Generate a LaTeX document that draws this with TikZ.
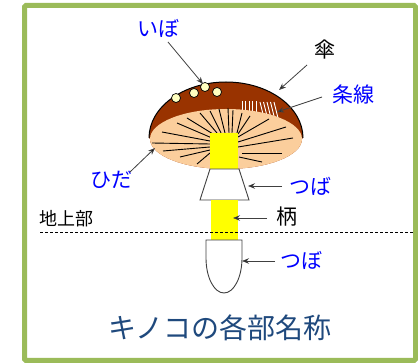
\documentclass[tikz,border=0pt]{standalone}
\usepackage{fontspec}
\newfontfamily\jp{Noto Sans CJK JP}
\usetikzlibrary{arrows.meta}
\definecolor{frameGreen}{HTML}{9BBB59}
\definecolor{capBrown}{HTML}{993300}
\definecolor{gillTan}{HTML}{FBCE9C}
\definecolor{wartCream}{HTML}{FFFFC0}
\definecolor{titleBlue}{HTML}{1F497D}
\definecolor{labelBlue}{HTML}{0000FF}
\definecolor{stemYellow}{HTML}{FFFF00}
\begin{document}
\begin{tikzpicture}[x=1pt,y=-1pt,
  lbl/.style={font={\jp\fontsize{21pt}{21pt}\selectfont}, inner sep=0pt, text=black},
  bluelbl/.style={lbl, text=labelBlue},
  pointer/.style={draw=black!75, line width=0.8pt,
    -{Stealth[length=7pt,width=5.5pt,fill=black]}},
  gillline/.style={draw=black, line width=0.9pt},
  streak/.style={draw=white, line width=0.9pt},
  outlined/.style={draw=black!75, line width=0.9pt, fill=white},
  wartdot/.style={draw=black, line width=0.7pt, fill=wartCream}]
\useasboundingbox (0,0) rectangle (418,363);

% cap: brown dome with its streaks, then the gill underside
\fill[capBrown] (149,138) arc[start angle=180,end angle=0,x radius=77pt,y radius=56pt]
  -- (302,139) arc[start angle=0,end angle=-180,x radius=76pt,y radius=30pt] -- cycle;
\foreach \x in {242,245.5,249,252.5,256}
  \draw[streak] (\x,101) -- (\x,118);
\foreach \x in {260,263.5,267,270.5,274}
  \draw[streak] (\x,102) -- (\x+4,118);
\fill[gillTan] (226,139) ellipse[x radius=76pt,y radius=30pt];
\draw[line width=1pt] (149,138) arc[start angle=180,end angle=0,x radius=77pt,y radius=56pt];

% gills
\foreach \a/\b/\c/\d in {
  200/113/217/133, 210/111/221/133, 219/109/225/133,
  177/123/212/138, 187/118/213/134, 162/132/210/141,
  152/143/210/144, 163/151/210/147, 180/157/210/150, 197/164/210/153,
  228/108/229/133, 233/110/232/133, 242/113/237/133, 250/116/238/134,
  269/119/238/137, 286/127/238/142, 293/138/238/147,
  242/153/282/153, 239/157/262/162}
  \draw[gillline] (\a,\b) -- (\c,\d);

% warts
\foreach \x/\y in {176/98,194/93,205/87,217/92}
  \draw[wartdot] (\x,\y) circle[radius=4.5pt];

% stem, ring and volva
\fill[stemYellow] (210,133) rectangle (238,170);
\draw[outlined] (210,169) -- (239,169) -- (249,200) -- (200,200) -- cycle;
\fill[stemYellow] (211,200) rectangle (238,240);
\draw[outlined] (206,240) -- (242,240) -- (242,258)
  arc[start angle=0,end angle=-180,x radius=18pt,y radius=35pt] -- cycle;

% ground line
\coordinate (gndL) at (40,232);
\coordinate (gndR) at (413,232);
\draw[dashed, dash pattern=on 3pt off 2pt, line width=0.6pt] (gndL) -- (gndR);

% labels
\node[bluelbl] (ibo) at (158,28) {いぼ};
\node[lbl] (kasa) at (325,50) {傘};
\node[bluelbl] (jousen) at (353,95) {条線};
\node[bluelbl] (hida) at (111,180) {ひだ};
\node[bluelbl] (tsuba) at (310,186) {つば};
\node[lbl] (e) at (287,217) {柄};
\node[lbl, font={\jp\fontsize{18pt}{18pt}\selectfont}] (chijou) at (66,219) {地上部};
\node[bluelbl] (tsubo) at (301,260) {つぼ};
\node[font={\jp\fontsize{28pt}{28pt}\selectfont}, text=titleBlue, inner sep=0pt]
  (title) at (220,328) {キノコの各部名称};

% pointers
\coordinate (iboT) at (168,42);   \coordinate (iboH) at (203,84);
\coordinate (kasaT) at (307,65);  \coordinate (kasaH) at (279,90);
\coordinate (jouT) at (322,97);   \coordinate (jouH) at (277,112);
\coordinate (hidaT) at (130,172); \coordinate (hidaH) at (155,148);
\coordinate (tsubaT) at (282,186);\coordinate (tsubaH) at (248,186);
\coordinate (eT) at (267,218);    \coordinate (eH) at (233,218);
\coordinate (tsuboT) at (275,261);\coordinate (tsuboH) at (242,261);
\draw[pointer] (iboT) -- (iboH);
\draw[pointer] (kasaT) -- (kasaH);
\draw[pointer] (jouT) -- (jouH);
\draw[pointer] (hidaT) -- (hidaH);
\draw[pointer] (tsubaT) -- (tsubaH);
\draw[pointer] (eT) -- (eH);
\draw[pointer] (tsuboT) -- (tsuboH);

% frame
\draw[frameGreen, line width=5pt, rounded corners=1.5pt] (24.5,5.5) rectangle (415.5,360.5);
\end{tikzpicture}
\end{document}
